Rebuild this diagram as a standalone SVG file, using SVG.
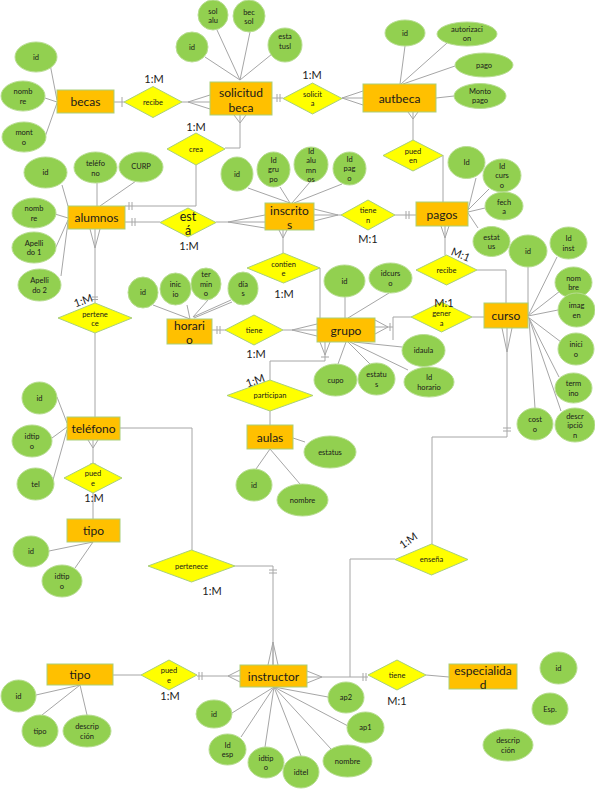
<svg xmlns="http://www.w3.org/2000/svg" width="595" height="789" viewBox="0 0 595 789">
<style>
  .ent{fill:#FFC000;stroke:#A9CF7A;stroke-width:1}
  .att{fill:#92D050;stroke:#B8DD92;stroke-width:1}
  .rel{fill:#FFFF00;stroke:#A9CF7A;stroke-width:1}
  .ln{fill:none;stroke:#A6A6A6;stroke-width:1}
  text{font-family:Lato,"Liberation Sans",sans-serif;fill:#1a1a1a;text-anchor:middle;dominant-baseline:central}
  .et{font-size:12px}
  .at{font-size:7.5px}
  .rt{font-size:7.5px}
  .card{font-size:11px}
</style>
<rect width="595" height="789" fill="#ffffff"/>

<!-- connectors -->
<g id="connectors" class="ln">
  <!-- becas / recibe / solicitud beca -->
  <path d="M114,102 H124 M122,97 V107"/>
  <path d="M182,102 H188 M188,102 L210,95 M188,102 H210 M188,102 L210,109"/>
  <!-- solicitud beca / crea / alumnos -->
  <path d="M234,115 L240,123 L246,115 M240,115 V148 H225"/>
  <path d="M196,165 V206 H125 M129,202 V210 M132,202 V210"/>
  <!-- alumnos / está / inscritos -->
  <path d="M125,222 H160 M132,218 V226 M135,218 V226"/>
  <path d="M216,222 H228 M228,222 L265,215 M228,222 H265 M228,222 L265,228"/>
  <!-- inscritos / tienen / pagos -->
  <path d="M338,215 L314,209 M338,215 H314 M338,215 L314,221 M338,215 H341"/>
  <path d="M395,215 H416 M406,211 V219 M409,211 V219"/>
  <!-- solicitud beca / solicita / autbeca -->
  <path d="M272,98 H283 M277,94 V102 M280,94 V102"/>
  <path d="M342,98 L363,91 M342,98 H363 M342,98 L363,105"/>
  <!-- autbeca / pueden / pagos -->
  <path d="M413,119 L408,112 M413,119 V112 M413,119 L418,112 M413,119 V140 M410,143 H416 M410,145 H416"/>
  <path d="M443,155 V202"/>
  <!-- pagos / recibe / curso -->
  <path d="M445,238 L441,226 M445,238 V226 M445,238 L449,226 M445,238 V255"/>
  <path d="M477,270 H506 V303"/>
  <!-- inscritos / contiene / grupo -->
  <path d="M283,238 L279,230 M283,238 V230 M283,238 L287,230 M283,238 V253 M280,256 H286"/>
  <path d="M320,268 V318"/>
  <!-- horario / tiene / grupo -->
  <path d="M212,330 H225 M217,326 V334 M220,326 V334"/>
  <path d="M283,330 H292 M292,330 L317,324 M292,330 H317 M292,330 L317,336"/>
  <!-- grupo / genera / curso -->
  <path d="M375,320 L388,327 M375,327 H393 M375,334 L388,327 M393,317 V340 M393,317 H411 M390,323 V331"/>
  <path d="M472,317 H484"/>
  <!-- grupo / participan / aulas -->
  <path d="M320,342 L325,355 M325,342 V355 M330,342 L325,355 M325,355 V361 H270 V380 M321,357 H329"/>
  <path d="M270,411 V425"/>
  <!-- alumnos / pertenece / teléfono -->
  <path d="M95,248 L90,229 M95,248 V229 M95,248 L100,229 M95,248 V303 M92,297 H98 M92,299.5 H98"/>
  <path d="M95,333 V417"/>
  <!-- teléfono / puede / tipo -->
  <path d="M93,448 L88,440 M93,448 V440 M93,448 L98,440 M93,448 V463 M90,464 H96"/>
  <path d="M93,493 V519"/>
  <!-- teléfono / pertenece / instructor -->
  <path d="M120,428 H192 V550"/>
  <path d="M235,566 H273 V665 M269,570 H277 M269,573 H277 M273,642 L268,665 M273,642 V665 M273,642 L278,665"/>
  <!-- tipo / puede / instructor -->
  <path d="M113,675 H141"/>
  <path d="M197,676 H228 M199,672 V680 M202,672 V680 M228,676 L240,670 M228,676 H240 M228,676 L240,682"/>
  <!-- instructor / tiene / especialidad -->
  <path d="M322,677 L307,671 M322,677 H307 M322,677 L307,683 M322,677 H368 M363,673 V681 M366,673 V681"/>
  <path d="M426,675 L449,677"/>
  <!-- instructor / enseña / curso -->
  <path d="M350,677 V559 H395"/>
  <path d="M432,544 V437 H507 V352 M503,428 H511 M503,431 H511 M507,352 L502,328 M507,352 V328 M507,352 L512,328"/>

  <!-- attribute links -->
  <path d="M50,64 L57,100 M45,98 L57,102 M45,137 L57,103"/>
  <path d="M205,57 L240,80 M217,30 L240,80 M250,32 L240,80 M272,54 L240,80"/>
  <path d="M405,46 L400,84 M447,43 L401,84 M455,66 L403,84 M436,98 L454,96"/>
  <path d="M62,185 L68,206 M97,183 V206 M136,181 L100,206 M55,214 L68,218 M56,247 L68,220 M61,276 L68,222"/>
  <path d="M248,188 L290,203 M280,187 L290,203 M310,182 L292,203 M342,184 L294,203"/>
  <path d="M476,178 L468,210 M489,189 L468,210 M485,208 L468,212 M478,228 L468,213"/>
  <path d="M528,267 V316 M557,257 L528,316 M560,291 L528,316 M558,310 L528,316 M561,342 L528,317 M559,377 L529,318 M535,408 L529,318 M561,411 L529,318"/>
  <path d="M153,305 L190,319 M187,305 L190,319 M208,300 L193,317 M232,302 L194,318 M231,300 L193,317"/>
  <path d="M345,297 V318 M389,293 L348,318 M338,364 L346,342 M370,364 L348,342 M402,347 L354,342 M408,370 L350,342"/>
  <path d="M293,438 L305,442 M270,449 L256,469 M270,449 L300,484"/>
  <path d="M57,397 L67,423 M52,438 L67,427 M53,480 L67,430"/>
  <path d="M49,551 L93,542 M75,568 L93,542"/>
  <path d="M80,685 L36,695 M80,685 L42,715 M80,685 L87,715"/>
  <path d="M274,687 L232,713 M274,687 L241,737 M274,687 L265,747 M274,687 L301,756 M274,687 L331,749 M274,687 L348,726 M274,687 L328,697"/>
</g>

<!-- entities -->
<g id="becas"><rect class="ent" x="57" y="90" width="57" height="23"/><text class="et" x="85.5" y="101.5">becas</text></g>
<g id="solicitud-beca"><rect class="ent" x="210" y="82" width="62" height="33"/><text class="et" x="241" y="92">solicitud</text><text class="et" x="241" y="107">beca</text></g>
<g id="autbeca"><rect class="ent" x="363" y="84" width="73" height="28"/><text class="et" x="399.5" y="98">autbeca</text></g>
<g id="alumnos"><rect class="ent" x="68" y="206" width="57" height="23"/><text class="et" x="96.5" y="217.5">alumnos</text></g>
<g id="inscritos"><rect class="ent" x="265" y="203" width="49" height="27"/><text class="et" x="289.5" y="210">inscrito</text><text class="et" x="289.5" y="224">s</text></g>
<g id="pagos"><rect class="ent" x="416" y="202" width="52" height="24"/><text class="et" x="442" y="214">pagos</text></g>
<g id="horario"><rect class="ent" x="167" y="319" width="45" height="25"/><text class="et" x="189.5" y="325">horari</text><text class="et" x="189.5" y="339">o</text></g>
<g id="grupo"><rect class="ent" x="317" y="318" width="58" height="24"/><text class="et" x="346" y="330">grupo</text></g>
<g id="curso"><rect class="ent" x="484" y="303" width="44" height="25"/><text class="et" x="506" y="315.5">curso</text></g>
<g id="aulas"><rect class="ent" x="247" y="425" width="46" height="24"/><text class="et" x="270" y="437">aulas</text></g>
<g id="telefono"><rect class="ent" x="67" y="417" width="53" height="23"/><text class="et" x="93.5" y="428.5">teléfono</text></g>
<g id="tipo-telefono"><rect class="ent" x="67" y="519" width="53" height="23"/><text class="et" x="93.5" y="530.5">tipo</text></g>
<g id="tipo-instructor"><rect class="ent" x="47" y="664" width="66" height="21"/><text class="et" x="80" y="674.5">tipo</text></g>
<g id="instructor"><rect class="ent" x="240" y="665" width="67" height="22"/><text class="et" x="273.5" y="676">instructor</text></g>
<g id="especialidad"><rect class="ent" x="449" y="664" width="68" height="25"/><text class="et" x="483" y="670">especialida</text><text class="et" x="483" y="684">d</text></g>

<!-- relationships -->
<g id="rel-recibe"><polygon class="rel" points="124,102 153,86.5 182,102 153,117.5"/><text class="rt" x="153" y="102">recibe</text></g>
<g id="rel-solicita"><polygon class="rel" points="283,98.5 312.5,83 342,98.5 312.5,114"/><text class="rt" x="312.5" y="94">solicit</text><text class="rt" x="312.5" y="103.5">a</text></g>
<g id="rel-crea"><polygon class="rel" points="167,149 196,133 225,149 196,165"/><text class="rt" x="196" y="149">crea</text></g>
<g id="rel-pueden"><polygon class="rel" points="383,155.5 413,140 443,155.5 413,171"/><text class="rt" x="413" y="151">pued</text><text class="rt" x="413" y="160.5">en</text></g>
<g id="rel-esta"><polygon class="rel" points="160,222.5 188,208 216,222.5 188,237"/><text class="et" x="188" y="216" style="font-size:12.5px">est</text><text class="et" x="188" y="230.5" style="font-size:12.5px">á</text></g>
<g id="rel-tienen"><polygon class="rel" points="341,215 368,200 395,215 368,230"/><text class="rt" x="368" y="210.5">tiene</text><text class="rt" x="368" y="220">n</text></g>
<g id="rel-recibe-pagos"><polygon class="rel" points="416,270 446.5,255 477,270 446.5,285"/><text class="rt" x="446.5" y="270">recibe</text></g>
<g id="rel-contiene"><polygon class="rel" points="247,268 283.5,253 320,268 283.5,283"/><text class="rt" x="283.5" y="264">contien</text><text class="rt" x="283.5" y="273.5">e</text></g>
<g id="rel-pertenece-alumnos"><polygon class="rel" points="58,318 95,303 132,318 95,333"/><text class="rt" x="95" y="314">pertene</text><text class="rt" x="95" y="323.5">ce</text></g>
<g id="rel-tiene-horario"><polygon class="rel" points="225,330 254,315 283,330 254,345"/><text class="rt" x="254" y="330">tiene</text></g>
<g id="rel-genera"><polygon class="rel" points="411,317 441.5,302 472,317 441.5,332"/><text class="rt" x="441.5" y="313.5">gener</text><text class="rt" x="441.5" y="323">a</text></g>
<g id="rel-participan"><polygon class="rel" points="227,395.5 270,380 313,395.5 270,411"/><text class="rt" x="270" y="395.5">participan</text></g>
<g id="rel-puede-telefono"><polygon class="rel" points="64,478 93,463 122,478 93,493"/><text class="rt" x="93" y="473.5">pued</text><text class="rt" x="93" y="483">e</text></g>
<g id="rel-pertenece-instructor"><polygon class="rel" points="148,566 191.5,550 235,566 191.5,582"/><text class="rt" x="191.5" y="566">pertenece</text></g>
<g id="rel-ensena"><polygon class="rel" points="395,559.5 431.5,544 468,559.5 431.5,575"/><text class="rt" x="431.5" y="559.5">enseña</text></g>
<g id="rel-puede-tipo"><polygon class="rel" points="141,675 169,660 197,675 169,690"/><text class="rt" x="169" y="670.5">pued</text><text class="rt" x="169" y="680">e</text></g>
<g id="rel-tiene-especialidad"><polygon class="rel" points="368,675 397,660 426,675 397,690"/><text class="rt" x="397" y="675">tiene</text></g>

<!-- attributes -->
<g id="attrs-becas">
  <ellipse class="att" cx="36" cy="57" rx="21" ry="15"/><text class="at" x="36" y="57">id</text>
  <ellipse class="att" cx="23" cy="96" rx="22" ry="15"/><text class="at" x="23" y="91">nomb</text><text class="at" x="23" y="101">re</text>
  <ellipse class="att" cx="24" cy="137" rx="22" ry="15"/><text class="at" x="24" y="132">mont</text><text class="at" x="24" y="142">o</text>
</g>
<g id="attrs-solicitud">
  <ellipse class="att" cx="192" cy="47" rx="16" ry="15"/><text class="at" x="192" y="47">id</text>
  <ellipse class="att" cx="213" cy="15" rx="15" ry="15"/><text class="at" x="213" y="11">sol</text><text class="at" x="213" y="20">alu</text>
  <ellipse class="att" cx="249" cy="16" rx="16" ry="16"/><text class="at" x="249" y="12">bec</text><text class="at" x="249" y="21.5">sol</text>
  <ellipse class="att" cx="285" cy="45" rx="17" ry="17"/><text class="at" x="285" y="36.5">esta</text><text class="at" x="285" y="46">tusl</text>
</g>
<g id="attrs-autbeca">
  <ellipse class="att" cx="405" cy="33" rx="20" ry="13"/><text class="at" x="405" y="33">id</text>
  <ellipse class="att" cx="467" cy="34" rx="30" ry="12"/><text class="at" x="467" y="29">autorizaci</text><text class="at" x="467" y="38.5">on</text>
  <ellipse class="att" cx="484" cy="65" rx="29" ry="12"/><text class="at" x="484" y="65">pago</text>
  <ellipse class="att" cx="480" cy="96" rx="26" ry="12.5"/><text class="at" x="480" y="91">Monto</text><text class="at" x="480" y="100.5">pago</text>
</g>
<g id="attrs-alumnos">
  <ellipse class="att" cx="45.5" cy="172.5" rx="21.5" ry="15.5"/><text class="at" x="45.5" y="172.5">id</text>
  <ellipse class="att" cx="95.5" cy="167.5" rx="21.5" ry="15.5"/><text class="at" x="95.5" y="163.5">teléfo</text><text class="at" x="95.5" y="173">no</text>
  <ellipse class="att" cx="141" cy="167" rx="22" ry="15"/><text class="at" x="141" y="166">CURP</text>
  <ellipse class="att" cx="34" cy="213" rx="22" ry="15"/><text class="at" x="34" y="208.5">nomb</text><text class="at" x="34" y="218">re</text>
  <ellipse class="att" cx="34" cy="247.5" rx="22" ry="15.5"/><text class="at" x="34" y="243">Apelli</text><text class="at" x="34" y="252.5">do 1</text>
  <ellipse class="att" cx="39.5" cy="285" rx="21.5" ry="16"/><text class="at" x="39.5" y="280.5">Apelli</text><text class="at" x="39.5" y="290">do 2</text>
</g>
<g id="attrs-inscritos">
  <ellipse class="att" cx="237" cy="174" rx="16" ry="17"/><text class="at" x="237" y="174">id</text>
  <ellipse class="att" cx="273.5" cy="169.5" rx="16.5" ry="17.5"/><text class="at" x="273.5" y="160">Id</text><text class="at" x="273.5" y="169.5">gru</text><text class="at" x="273.5" y="179">po</text>
  <ellipse class="att" cx="311" cy="164.5" rx="17" ry="17.5"/><text class="at" x="311" y="151">Id</text><text class="at" x="311" y="160.5">alu</text><text class="at" x="311" y="170">mn</text><text class="at" x="311" y="179">os</text>
  <ellipse class="att" cx="349.5" cy="168.5" rx="16.5" ry="16.5"/><text class="at" x="349.5" y="159">Id</text><text class="at" x="349.5" y="168.5">pag</text><text class="at" x="349.5" y="178">o</text>
</g>
<g id="attrs-pagos">
  <ellipse class="att" cx="466.5" cy="162.5" rx="18.5" ry="16"/><text class="at" x="466.5" y="162.5">Id</text>
  <ellipse class="att" cx="502" cy="175.5" rx="19" ry="16.5"/><text class="at" x="502" y="166">Id</text><text class="at" x="502" y="175.5">curs</text><text class="at" x="502" y="185">o</text>
  <ellipse class="att" cx="504" cy="206" rx="19" ry="14"/><text class="at" x="504" y="202">fech</text><text class="at" x="504" y="211.5">a</text>
  <ellipse class="att" cx="491.5" cy="241.5" rx="18.5" ry="15"/><text class="at" x="491.5" y="237">estat</text><text class="at" x="491.5" y="246.5">us</text>
</g>
<g id="attrs-curso">
  <ellipse class="att" cx="528" cy="251" rx="19" ry="16"/><text class="at" x="528" y="251">id</text>
  <ellipse class="att" cx="568.5" cy="243" rx="18.5" ry="16"/><text class="at" x="568.5" y="238.5">Id</text><text class="at" x="568.5" y="248">inst</text>
  <ellipse class="att" cx="573.5" cy="282.5" rx="18.5" ry="15.5"/><text class="at" x="573.5" y="278">nom</text><text class="at" x="573.5" y="287.5">bre</text>
  <ellipse class="att" cx="576.5" cy="310" rx="18.5" ry="17"/><text class="at" x="576.5" y="305.5">imag</text><text class="at" x="576.5" y="315">en</text>
  <ellipse class="att" cx="576" cy="349" rx="18" ry="16"/><text class="at" x="576" y="344.5">inici</text><text class="at" x="576" y="354">o</text>
  <ellipse class="att" cx="573.5" cy="388" rx="18.5" ry="15"/><text class="at" x="573.5" y="383.5">term</text><text class="at" x="573.5" y="393">ino</text>
  <ellipse class="att" cx="535" cy="424" rx="18" ry="16"/><text class="at" x="535" y="419.5">cost</text><text class="at" x="535" y="429">o</text>
  <ellipse class="att" cx="575" cy="425" rx="20" ry="17"/><text class="at" x="575" y="416">descr</text><text class="at" x="575" y="425.5">ipció</text><text class="at" x="575" y="435">n</text>
</g>
<g id="attrs-horario">
  <ellipse class="att" cx="143" cy="292.5" rx="15" ry="15.5"/><text class="at" x="143" y="292.5">id</text>
  <ellipse class="att" cx="175.5" cy="289" rx="15.5" ry="16"/><text class="at" x="175.5" y="284.5">inic</text><text class="at" x="175.5" y="294">io</text>
  <ellipse class="att" cx="206" cy="284" rx="15" ry="16"/><text class="at" x="206" y="274.5">ter</text><text class="at" x="206" y="284">min</text><text class="at" x="206" y="293.5">o</text>
  <ellipse class="att" cx="243" cy="288.5" rx="15" ry="16.5"/><text class="at" x="243" y="284">día</text><text class="at" x="243" y="293.5">s</text>
</g>
<g id="attrs-grupo">
  <ellipse class="att" cx="344.5" cy="281" rx="20.5" ry="16"/><text class="at" x="344.5" y="281">id</text>
  <ellipse class="att" cx="390.5" cy="278" rx="21.5" ry="15"/><text class="at" x="390.5" y="273.5">idcurs</text><text class="at" x="390.5" y="283">o</text>
  <ellipse class="att" cx="423.5" cy="350.5" rx="21.5" ry="16"/><text class="at" x="423.5" y="350.5">idaula</text>
  <ellipse class="att" cx="429" cy="382" rx="25" ry="15"/><text class="at" x="429" y="377.5">Id</text><text class="at" x="429" y="387">horario</text>
  <ellipse class="att" cx="335.5" cy="380" rx="21.5" ry="16"/><text class="at" x="335.5" y="380">cupo</text>
  <ellipse class="att" cx="376.5" cy="379" rx="18.5" ry="16"/><text class="at" x="376.5" y="374.5">estatu</text><text class="at" x="376.5" y="384">s</text>
</g>
<g id="attrs-aulas">
  <ellipse class="att" cx="330" cy="452" rx="26" ry="16"/><text class="at" x="330" y="452">estatus</text>
  <ellipse class="att" cx="254" cy="485" rx="18" ry="16"/><text class="at" x="254" y="485">id</text>
  <ellipse class="att" cx="302.5" cy="500" rx="25.5" ry="16"/><text class="at" x="302.5" y="500">nombre</text>
</g>
<g id="attrs-telefono">
  <ellipse class="att" cx="39.5" cy="398" rx="17.5" ry="16"/><text class="at" x="39.5" y="398">id</text>
  <ellipse class="att" cx="32" cy="441" rx="20" ry="16"/><text class="at" x="32" y="436.5">idtip</text><text class="at" x="32" y="446">o</text>
  <ellipse class="att" cx="35.5" cy="484" rx="18.5" ry="16"/><text class="at" x="35.5" y="484">tel</text>
</g>
<g id="attrs-tipo-telefono">
  <ellipse class="att" cx="31" cy="551.5" rx="18" ry="15.5"/><text class="at" x="31" y="551.5">id</text>
  <ellipse class="att" cx="62" cy="581" rx="20" ry="16"/><text class="at" x="62" y="576.5">idtip</text><text class="at" x="62" y="586">o</text>
</g>
<g id="attrs-tipo-instructor">
  <ellipse class="att" cx="18.5" cy="696" rx="17.5" ry="16"/><text class="at" x="18.5" y="696">id</text>
  <ellipse class="att" cx="40" cy="731" rx="18" ry="16"/><text class="at" x="40" y="731">tipo</text>
  <ellipse class="att" cx="87" cy="731" rx="24" ry="16"/><text class="at" x="87" y="726.5">descrip</text><text class="at" x="87" y="736">ción</text>
</g>
<g id="attrs-instructor">
  <ellipse class="att" cx="214" cy="714" rx="18" ry="14"/><text class="at" x="214" y="714">id</text>
  <ellipse class="att" cx="227.5" cy="749.5" rx="18.5" ry="15.5"/><text class="at" x="227.5" y="745">Id</text><text class="at" x="227.5" y="754.5">esp</text>
  <ellipse class="att" cx="266" cy="762.5" rx="18" ry="15.5"/><text class="at" x="266" y="758">idtip</text><text class="at" x="266" y="767.5">o</text>
  <ellipse class="att" cx="301" cy="772" rx="18" ry="16"/><text class="at" x="301" y="772">idtel</text>
  <ellipse class="att" cx="347.5" cy="761" rx="24.5" ry="16"/><text class="at" x="347.5" y="761">nombre</text>
  <ellipse class="att" cx="365.5" cy="727.5" rx="18.5" ry="15.5"/><text class="at" x="365.5" y="727.5">ap1</text>
  <ellipse class="att" cx="346" cy="697.5" rx="18" ry="15.5"/><text class="at" x="346" y="697.5">ap2</text>
</g>
<g id="attrs-especialidad">
  <ellipse class="att" cx="558.5" cy="668" rx="18.5" ry="16"/><text class="at" x="558.5" y="668">id</text>
  <ellipse class="att" cx="550" cy="709" rx="18" ry="16"/><text class="at" x="550" y="709">Esp.</text>
  <ellipse class="att" cx="508" cy="745" rx="25" ry="16"/><text class="at" x="508" y="740.5">descrip</text><text class="at" x="508" y="750">ción</text>
</g>

<!-- cardinalities -->
<g id="cardinalities">
  <text class="card" x="154" y="78">1:M</text>
  <text class="card" x="312" y="74">1:M</text>
  <text class="card" x="196" y="126">1:M</text>
  <text class="card" x="189" y="245">1:M</text>
  <text class="card" x="368" y="238">M:1</text>
  <text class="card" x="461" y="254" transform="rotate(22 461 254)">M:1</text>
  <text class="card" x="284" y="293">1:M</text>
  <text class="card" x="444" y="302">M:1</text>
  <text class="card" x="256" y="353">1:M</text>
  <text class="card" x="83" y="300" transform="rotate(-20 83 300)">1:M</text>
  <text class="card" x="255" y="380" transform="rotate(-20 255 380)">1:M</text>
  <text class="card" x="94" y="497">1:M</text>
  <text class="card" x="408" y="540" transform="rotate(-35 408 540)">1:M</text>
  <text class="card" x="212" y="590">1:M</text>
  <text class="card" x="170" y="695">1:M</text>
  <text class="card" x="397" y="700">M:1</text>
</g>
</svg>
